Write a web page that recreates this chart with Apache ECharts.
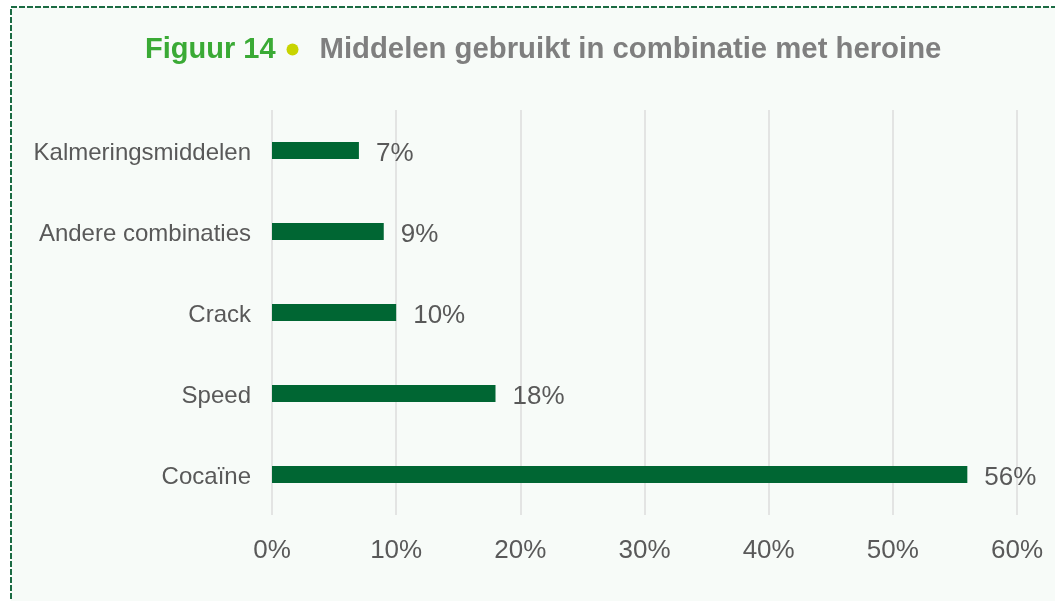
<!DOCTYPE html>
<html>
<head>
<meta charset="utf-8">
<script src="https://cdn.jsdelivr.net/npm/echarts@6/dist/echarts.min.js"></script>
<style>
  html, body { margin: 0; padding: 0; background: #ffffff; }
  #chart { width: 1055px; height: 601px; }
</style>
</head>
<body>
<div id="chart"></div>
<script>
// data
const categories = ['Cocaïne', 'Speed', 'Crack', 'Andere combinaties', 'Kalmeringsmiddelen']
const percentages = [56, 18, 10, 9, 7]
const xTicks = [0, 10, 20, 30, 40, 50, 60]

const chart = echarts.init(document.getElementById('chart'))

const option = {
  animation: false,
  textStyle: { fontFamily: 'Liberation Sans, Arial, sans-serif' },
  graphic: [
    {
      type: 'rect',
      z: -10,
      shape: { x: 11, y: 7, width: 1100, height: 700 },
      style: { fill: '#f7fbf8', stroke: '#1b6b43', lineWidth: 2, lineDash: [6, 2] }
    }
  ],
  title: {
    left: 145,
    top: 35,
    padding: 0,
    text: '{fig|Figuur 14}{g1| }{dot| }{g2| }{main|Middelen gebruikt in combinatie met heroine}',
    textStyle: {
      rich: {
        fig: { color: '#3aaa35', fontSize: 29, fontWeight: 'bold', fontFamily: 'Liberation Sans' },
        g1: { width: 11, fontSize: 12 },
        dot: { width: 12, height: 12, fontSize: 12, backgroundColor: '#c8d400', borderRadius: 6 },
        g2: { width: 21, fontSize: 12 },
        main: { color: '#7f7f7f', fontSize: 29.3, fontWeight: 'bold', fontFamily: 'Liberation Sans' }
      }
    }
  },
  grid: { left: 272, right: 38, top: 110, bottom: 86 },
  xAxis: {
    type: 'value',
    min: xTicks[0],
    max: xTicks[xTicks.length - 1],
    interval: 10,
    axisLine: { show: false },
    axisTick: { show: false },
    splitLine: { lineStyle: { color: '#dcdcdc', width: 1.5 } },
    axisLabel: {
      formatter: '{value}%',
      color: '#595959',
      fontSize: 26,
      margin: 23
    }
  },
  yAxis: {
    type: 'category',
    data: categories,
    axisLine: { show: false },
    axisTick: { show: false },
    axisLabel: {
      margin: 21,
      formatter: (v) => '{c|' + v + '}',
      rich: { c: { color: '#595959', fontSize: 24, padding: [6, 0, 0, 0] } }
    }
  },
  series: [
    {
      type: 'bar',
      data: percentages,
      barWidth: 17,
      itemStyle: { color: '#006633' },
      label: {
        show: true,
        position: 'right',
        distance: 17,
        offset: [0, 3],
        formatter: '{c}%',
        color: '#595959',
        fontSize: 26
      }
    }
  ]
}

chart.setOption(option)
</script>
</body>
</html>
